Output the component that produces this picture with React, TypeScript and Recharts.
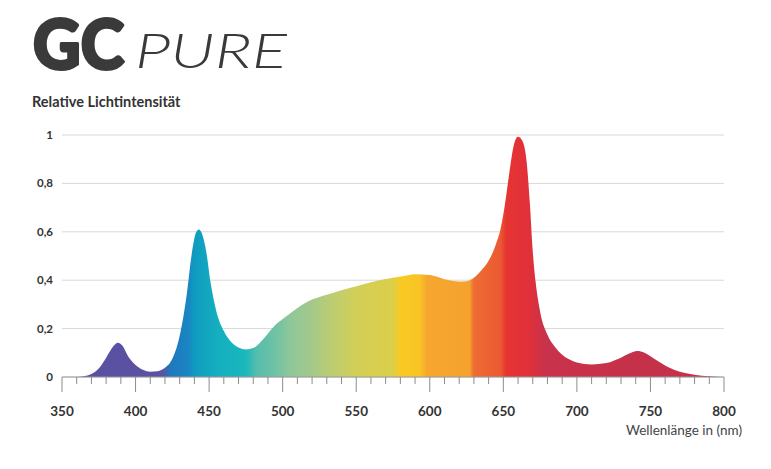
import React from 'react';
import { ComposedChart, Area, XAxis, YAxis, CartesianGrid } from 'recharts';

// wavelength (nm) and relative intensity
const WAVELENGTHS = [
    350, 360, 365, 370, 375, 380, 385, 388, 391, 395, 400, 405, 410, 415, 420, 425,
    430, 435, 438, 441, 443, 445, 448, 451, 455, 460, 465, 470, 475, 480, 485, 490,
    495, 500, 505, 510, 515, 520, 530, 540, 550, 560, 570, 580, 590, 600, 605, 610,
    615, 620, 625, 630, 635, 640, 645, 648, 651, 654, 657, 660, 663, 666, 668, 670,
    672, 675, 680, 685, 690, 695, 700, 710, 720, 730, 736, 741, 746, 752, 758, 763,
    770, 777, 785, 795, 800,
];
const INTENSITY = [
    0, 0, 0.003, 0.012, 0.035, 0.08, 0.128, 0.142, 0.13, 0.085, 0.05, 0.03, 0.022, 0.024, 0.038, 0.075,
    0.17, 0.35, 0.5, 0.595, 0.61, 0.595, 0.52, 0.39, 0.27, 0.19, 0.145, 0.122, 0.114, 0.12, 0.145, 0.18,
    0.215, 0.24, 0.262, 0.285, 0.305, 0.32, 0.34, 0.358, 0.375, 0.392, 0.405, 0.415, 0.425, 0.422, 0.414, 0.404,
    0.398, 0.395, 0.396, 0.41, 0.44, 0.48, 0.55, 0.61, 0.71, 0.84, 0.955, 0.993, 0.975, 0.88, 0.72, 0.52,
    0.39, 0.27, 0.175, 0.125, 0.092, 0.072, 0.06, 0.052, 0.058, 0.08, 0.098, 0.107, 0.1, 0.077, 0.055, 0.038,
    0.022, 0.012, 0.005, 0.001, 0,
];

const Y_TICKS = [0, 0.2, 0.4, 0.6, 0.8, 1];
const X_LABELS = [350, 400, 450, 500, 550, 600, 650, 700, 750, 800];
const X_TICKS = Array.from({ length: 46 }, (_, i) => 350 + i * 10);

// colour of the spectrum at a given wavelength
const SPECTRUM: [number, string][] = [
    [350, '#5b4fa0'], [418, '#5a52a3'], [424, '#1f78bd'], [436, '#1a86c3'],
    [440, '#0f9bc0'], [455, '#14aebf'], [475, '#1ab7bd'], [482, '#55bdae'],
    [495, '#6fc2a5'], [505, '#8fc79a'], [520, '#a3c98a'], [530, '#b7cc77'],
    [550, '#d2cf57'], [575, '#dccf4a'], [580, '#f9c923'], [593, '#f8c524'],
    [598, '#f6a72f'], [627, '#f5a22f'], [630, '#ee6d33'], [648, '#eb5932'],
    [652, '#e63433'], [668, '#e0303a'], [678, '#c8324a'], [800, '#c4304a'],
];

const data = WAVELENGTHS.map((nm, i) => ({ nm, value: INTENSITY[i] }));

const FONT = 'Lato, "Open Sans", sans-serif';

function WaveTick({ x, y, payload }: any) {
    const v = payload.value;
    const major = v % 50 === 0;
    return (
        <g>
            <line x1={x} x2={x} y1={y} y2={y + (major ? 15 : 7)} stroke="#8c8c8c" strokeWidth={1} />
            {major && X_LABELS.includes(v) && (
                <text x={x} y={y + 34} dy="0.35em" textAnchor="middle" fontSize={13.5} fontWeight={700} fill="#333" fontFamily={FONT}>
                    {v}
                </text>
            )}
        </g>
    );
}

export default function App() {
    return (
        <div style={{ position: 'absolute', left: 0, top: 0, width: 771, height: 469, background: '#fff', fontFamily: FONT }}>
            <svg width={300} height={90} style={{ position: 'absolute', left: 0, top: 0 }}>
                <text x={33} y={69} fontSize={68} fontWeight={900} textLength={91} lengthAdjust="spacingAndGlyphs" fill="#3a3a3a" stroke="#3a3a3a" strokeWidth={3} strokeLinejoin="round" fontFamily={FONT}>GC</text>
                <text x={135} y={68} fontSize={48} fontWeight={300} fontStyle="italic" textLength={152} lengthAdjust="spacingAndGlyphs" fill="#3a3a3a" fontFamily={FONT}>PURE</text>
            </svg>
            <div style={{ position: 'absolute', left: 32, top: 93, fontSize: 14.5, fontWeight: 700, color: '#333', lineHeight: '18px' }}>
                Relative Lichtintensität
            </div>
            <ComposedChart
                width={771}
                height={469}
                data={data}
                margin={{ top: 135, right: 47, bottom: 62, left: 12 }}
            >
                <defs>
                    <linearGradient id="spectrum" x1="0" y1="0" x2="1" y2="0">
                        {SPECTRUM.map(([nm, color]) => (
                            <stop key={nm} offset={(nm - 350) / 450} stopColor={color} />
                        ))}
                    </linearGradient>
                </defs>
                <CartesianGrid vertical={false} stroke="#d8d8d8" />
                <XAxis
                    dataKey="nm"
                    type="number"
                    domain={[350, 800]}
                    ticks={X_TICKS}
                    interval={0}
                    tick={<WaveTick />}
                    tickLine={false}
                    tickSize={0}
                    tickMargin={0}
                    axisLine={{ stroke: '#9a9a9a' }}
                    height={30}
                />
                <YAxis
                    type="number"
                    domain={[0, 1]}
                    ticks={Y_TICKS}
                    interval={0}
                    axisLine={false}
                    tickLine={false}
                    tickSize={0}
                    tickMargin={9}
                    width={50}
                    tick={{ fontSize: 11.5, fontWeight: 700, fill: '#333', fontFamily: FONT }}
                    tickFormatter={(v: number) => String(v).replace('.', ',')}
                />
                <Area
                    type="monotone"
                    dataKey="value"
                    stroke="none"
                    fill="url(#spectrum)"
                    fillOpacity={1}
                    dot={false}
                    activeDot={false}
                    isAnimationActive={false}
                />
            </ComposedChart>
            <div style={{ position: 'absolute', left: 560, width: 182, top: 422, textAlign: 'right', fontSize: 13.5, color: '#444', lineHeight: '16px' }}>
                Wellenlänge in (nm)
            </div>
        </div>
    );
}
